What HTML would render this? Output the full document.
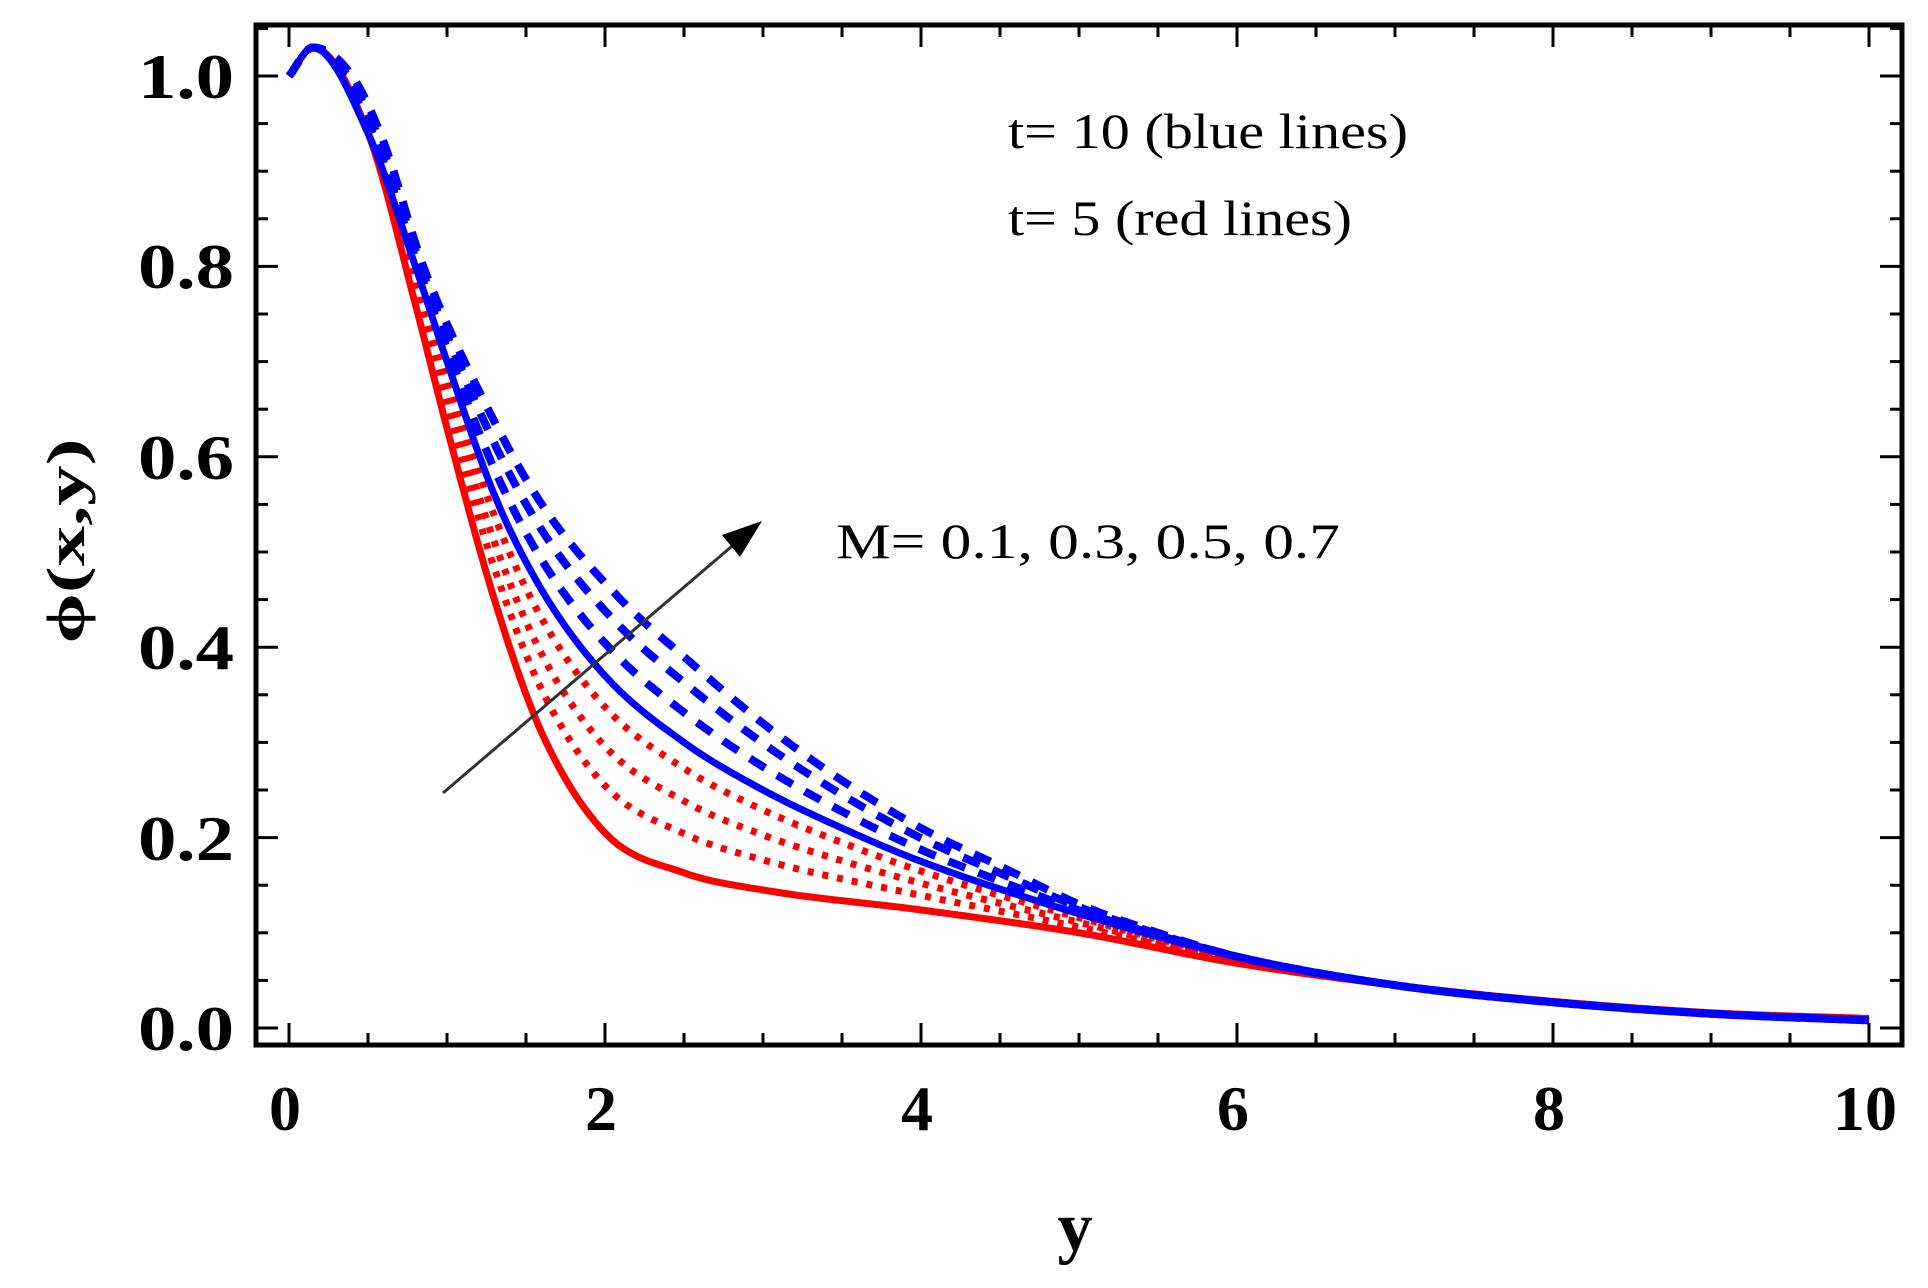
<!DOCTYPE html>
<html><head><meta charset="utf-8"><style>
html,body{margin:0;padding:0;background:#fff;}
svg{display:block;}
</style></head><body>
<svg id="s" width="1928" height="1288" xmlns="http://www.w3.org/2000/svg">
<rect width="1928" height="1288" fill="#fff"/>
<g id="curves"></g>
<g id="ticks" stroke="#000"></g>
<rect x="256" y="25" width="1646" height="1020" fill="none" stroke="#000" stroke-width="5"/>
<g font-family="Liberation Serif, serif" font-weight="bold" font-size="64" fill="#000" text-anchor="end">
<text x="234" y="98" textLength="96" lengthAdjust="spacingAndGlyphs">1.0</text>
<text x="234" y="288" textLength="96" lengthAdjust="spacingAndGlyphs">0.8</text>
<text x="234" y="479" textLength="96" lengthAdjust="spacingAndGlyphs">0.6</text>
<text x="234" y="669" textLength="96" lengthAdjust="spacingAndGlyphs">0.4</text>
<text x="234" y="860" textLength="96" lengthAdjust="spacingAndGlyphs">0.2</text>
<text x="234" y="1050" textLength="96" lengthAdjust="spacingAndGlyphs">0.0</text>
</g>
<g font-family="Liberation Serif, serif" font-weight="bold" font-size="64" fill="#000" text-anchor="middle">
<text x="285" y="1130">0</text>
<text x="601" y="1130">2</text>
<text x="917" y="1130">4</text>
<text x="1233" y="1130">6</text>
<text x="1549" y="1130">8</text>
<text x="1865" y="1130">10</text>
<text x="1075" y="1250" font-size="70">y</text>
<text transform="translate(84,541) rotate(-90)" font-size="54" textLength="205" lengthAdjust="spacingAndGlyphs">ϕ(x,y)</text>
</g>
<g font-family="Liberation Serif, serif" font-size="50" fill="#000">
<text x="1008" y="148" textLength="400" lengthAdjust="spacingAndGlyphs">t= 10 (blue lines)</text>
<text x="1008" y="235" textLength="344" lengthAdjust="spacingAndGlyphs">t= 5 (red lines)</text>
<text x="836" y="558" textLength="504" lengthAdjust="spacingAndGlyphs">M= 0.1, 0.3, 0.5, 0.7</text>
</g>
<line x1="443" y1="793" x2="738" y2="541" stroke="#333" stroke-width="3"/>
<polygon points="762,521 722,535 740,557" fill="#000"/>
</svg>
<script>
var X0=289,XS=158,Y0=1028,YS=952;
function px(x){return X0+x*XS} function py(y){return Y0-y*YS}
var rs=[[0,1],[0.15,1.03],[0.5,0.94],[0.8,0.76],[1.0,0.63],[1.3,0.45],[1.6,0.31],[2.0,0.205],[2.5,0.163],[3,0.145],[4,0.124],[5,0.1],[6,0.068],[7,0.045],[8,0.028],[9,0.016],[10,0.01]];
var bs=[[0,1],[0.15,1.03],[0.5,0.94],[0.8,0.8],[1.0,0.7],[1.3,0.56],[1.6,0.46],[2.0,0.37],[2.5,0.3],[3,0.25],[3.5,0.21],[4,0.175],[5,0.12],[6,0.075],[7,0.045],[8,0.027],[9,0.015],[10,0.008]];
var bo=[[0,1],[0.15,1.03],[0.4,1.0],[0.6,0.93],[0.85,0.8],[1.2,0.67],[1.6,0.55],[2.1,0.45],[2.5,0.39],[3,0.32],[3.5,0.26],[4,0.21],[4.5,0.17],[5,0.13],[5.5,0.1],[6,0.075],[7,0.045],[8,0.027],[9,0.015],[10,0.008]];
function mk(p){var n=p.length,d=[],m=[];for(var i=0;i<n-1;i++)d.push((p[i+1][1]-p[i][1])/(p[i+1][0]-p[i][0]));m[0]=d[0];m[n-1]=d[n-2];for(i=1;i<n-1;i++){m[i]=(d[i-1]*d[i]<=0)?0:(d[i-1]+d[i])/2;}
return function(x){for(var i=0;i<n-1;i++){if(x<=p[i+1][0]){var h=p[i+1][0]-p[i][0],t=(x-p[i][0])/h,t2=t*t,t3=t2*t;return (2*t3-3*t2+1)*p[i][1]+(t3-2*t2+t)*h*m[i]+(-2*t3+3*t2)*p[i+1][1]+(t3-t2)*h*m[i+1];}}return p[n-1][1];};}
var R=mk(rs),B=mk(bs),O=mk(bo);
function path(g){var d="";for(var x=0;x<=10.0001;x+=0.02){d+=(d?"L":"M")+px(x).toFixed(1)+","+py(g(x)).toFixed(1);}return d;}
var ns="http://www.w3.org/2000/svg",C=document.getElementById("curves");
function add(d,col,dash,w){var e=document.createElementNS(ns,"path");e.setAttribute("d",d);e.setAttribute("fill","none");e.setAttribute("stroke",col);e.setAttribute("stroke-width",w||"7");if(dash)e.setAttribute("stroke-dasharray",dash);C.appendChild(e);}
add(path(R),"#f00");
[0.3,0.55,0.8].forEach(function(k){add(path(function(x){return R(x)*(1-k)+B(x)*k}),"#f00","6 9","7");});
[0.35,0.7,1].forEach(function(k){add(path(function(x){return B(x)*(1-k)+O(x)*k}),"#00f","18 14","8");});
add(path(B),"#00f");
var T=document.getElementById("ticks"),s="";
for(var i=0;i<=20;i++){var x=px(i*0.5),L=(i%4==0)?22:12;s+='<line x1="'+x+'" y1="1045" x2="'+x+'" y2="'+(1045-L)+'" stroke-width="3"/>';s+='<line x1="'+x+'" y1="25" x2="'+x+'" y2="'+(25+L)+'" stroke-width="3"/>';}
for(var j=0;j<=21;j++){var y=py(j*0.05),L=(j%4==0)?22:12;if(y<25)continue;s+='<line x1="256" y1="'+y+'" x2="'+(256+L)+'" y2="'+y+'" stroke-width="3"/>';s+='<line x1="1902" y1="'+y+'" x2="'+(1902-L)+'" y2="'+y+'" stroke-width="3"/>';}
T.innerHTML=s;
</script>
</body></html>
